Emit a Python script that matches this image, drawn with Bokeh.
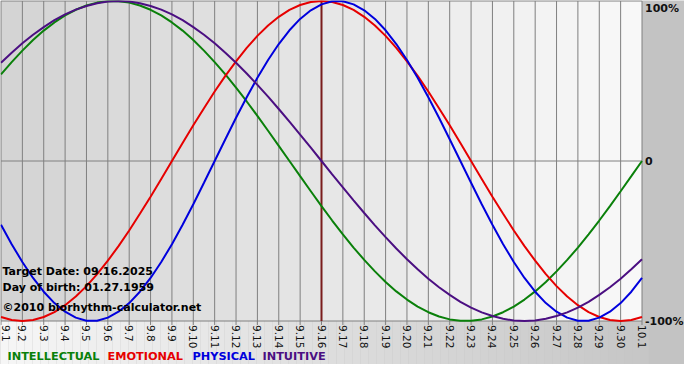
import math
from bokeh.plotting import figure
from bokeh.models import Range1d, Label
from bokeh.core.properties import value
from bokeh.embed import file_html
from bokeh.resources import INLINE

# ---------------- data ----------------
tick_labels = ["9.1", "9.2", "9.3", "9.4", "9.5", "9.6", "9.7", "9.8", "9.9", "9.10",
               "9.11", "9.12", "9.13", "9.14", "9.15", "9.16", "9.17", "9.18", "9.19", "9.20",
               "9.21", "9.22", "9.23", "9.24", "9.25", "9.26", "9.27", "9.28", "9.29", "9.30",
               "10.1"]
days = list(range(len(tick_labels)))
# curve samples every half day (9.1 = 0)
sample_days = [h / 2 for h in range(2 * (len(tick_labels) - 1) + 1)]

intellectual = [0.541, 0.618, 0.690, 0.756, 0.815, 0.866, 0.910, 0.945, 0.972, 0.990,
                0.999, 0.999, 0.990, 0.972, 0.945, 0.910, 0.866, 0.815, 0.756, 0.690,
                0.618, 0.541, 0.458, 0.372, 0.282, 0.189, 0.095, 0.000, -0.095, -0.189,
                -0.282, -0.372, -0.458, -0.541, -0.618, -0.690, -0.756, -0.815, -0.866, -0.910,
                -0.945, -0.972, -0.990, -0.999, -0.999, -0.990, -0.972, -0.945, -0.910, -0.866,
                -0.815, -0.756, -0.690, -0.618, -0.541, -0.458, -0.372, -0.282, -0.189, -0.095,
                0.000]
emotional = [-0.975, -0.994, -1.000, -0.994, -0.975, -0.944, -0.901, -0.847, -0.782, -0.707,
             -0.623, -0.532, -0.434, -0.330, -0.223, -0.112, 0.000, 0.112, 0.223, 0.330,
             0.434, 0.532, 0.623, 0.707, 0.782, 0.847, 0.901, 0.944, 0.975, 0.994,
             1.000, 0.994, 0.975, 0.944, 0.901, 0.847, 0.782, 0.707, 0.623, 0.532,
             0.434, 0.330, 0.223, 0.112, 0.000, -0.112, -0.223, -0.330, -0.434, -0.532,
             -0.623, -0.707, -0.782, -0.847, -0.901, -0.944, -0.975, -0.994, -1.000, -0.994,
             -0.975]
physical = [-0.398, -0.520, -0.631, -0.731, -0.817, -0.888, -0.942, -0.979, -0.998, -0.998,
            -0.979, -0.942, -0.888, -0.817, -0.731, -0.631, -0.520, -0.398, -0.270, -0.136,
            0.000, 0.136, 0.270, 0.398, 0.520, 0.631, 0.731, 0.817, 0.888, 0.942,
            0.979, 0.998, 0.998, 0.979, 0.942, 0.888, 0.817, 0.731, 0.631, 0.520,
            0.398, 0.270, 0.136, 0.000, -0.136, -0.270, -0.398, -0.520, -0.631, -0.731,
            -0.817, -0.888, -0.942, -0.979, -0.998, -0.998, -0.979, -0.942, -0.888, -0.817,
            -0.731]
intuitive = [0.614, 0.677, 0.736, 0.789, 0.837, 0.880, 0.916, 0.946, 0.969, 0.986,
             0.997, 1.000, 0.997, 0.986, 0.969, 0.946, 0.916, 0.880, 0.837, 0.789,
             0.736, 0.677, 0.614, 0.547, 0.476, 0.402, 0.325, 0.246, 0.165, 0.083,
             0.000, -0.083, -0.165, -0.246, -0.325, -0.402, -0.476, -0.547, -0.614, -0.677,
             -0.736, -0.789, -0.837, -0.880, -0.916, -0.946, -0.969, -0.986, -0.997, -1.000,
             -0.997, -0.986, -0.969, -0.946, -0.916, -0.880, -0.837, -0.789, -0.736, -0.677,
             -0.614]

series_names = ["INTELLECTUAL", "EMOTIONAL", "PHYSICAL", "INTUITIVE"]
series_values = [intellectual, emotional, physical, intuitive]
series_colors = ["#0a800a", "#e60000", "#0000dd", "#4b0f82"]

y_ticks = [1, 0, -1]
y_tick_labels = ["100%", "0", "-100%"]

target_label = "9.16"
info_lines = ["Target Date: 09.16.2025", "Day of birth: 01.27.1959",
              "\u00a92010 biorhythm-calculator.net"]

# ---------------- layout ----------------
W, H = 684, 364
X0, XR = 0.5, 641.5       # canvas px of first / last day
Y1, Y2 = 0.5, 320.5       # canvas px of +100% / -100%
n = len(days) - 1
SX = (XR - X0) / n
SY = (Y2 - Y1) / 2.0


def dx(px):
    return (px - X0) / SX


def dy(py):
    return 1 - (py - Y1) / SY


p = figure(width=W, height=H,
           x_range=Range1d(dx(0), dx(W)), y_range=Range1d(dy(H), dy(0)),
           x_axis_type=None, y_axis_type=None,
           toolbar_location=None, output_backend="svg", min_border=0,
           outline_line_color=None,
           background_fill_color="#c3c3c3", border_fill_color="#c3c3c3")
p.title.visible = False


def grey(v):
    v = int(round(v))
    return "#%02x%02x%02x" % (v, v, v)


# plot columns, light grey getting lighter to the right
col_colors = [grey(0xd4 + (0xf8 - 0xd4) * i / (n - 1)) for i in range(n)]
p.quad(left=days[:-1], right=days[1:], bottom=-1, top=1,
       fill_color=col_colors, line_color=None)
p.quad(left=[dx(0)], right=[0], bottom=-1, top=1, fill_color=col_colors[0], line_color=None)

# bottom band gradient
strip = 8
edges = list(range(0, int(XR) + strip, strip))
bl = [dx(e) for e in edges[:-1]]
br = [dx(e) for e in edges[1:]]
bcol = [grey(0xf6 - (0xf6 - 0xc6) * k / (len(bl) - 1)) for k in range(len(bl))]
p.quad(left=bl, right=br, bottom=dy(H), top=-1, fill_color=bcol, line_color=None)

# grid lines
p.segment(x0=days, y0=-1, x1=days, y1=1, line_color="#808080", line_width=1)
p.segment(x0=days, y0=-1, x1=days, y1=dy(Y2 + 4), line_color="#808080", line_width=1)
p.segment(x0=[0] * 3, y0=y_ticks, x1=[n] * 3, y1=y_ticks, line_color="#808080", line_width=1)

# target marker
t = tick_labels.index(target_label)
p.segment(x0=[days[t]], y0=[-1], x1=[days[t]], y1=[1], line_color="#7a1c1c", line_width=2)

# curves
for vals, col in zip(series_values, series_colors):
    p.line(sample_days, vals, line_color=col, line_width=2)

# x tick labels (rotated, reading downwards); first one nudged inside the canvas
tick_kw = dict(angle=-math.pi / 2, text_align="left", text_baseline="middle",
               text_color="#111111", text_font=value("DejaVu Sans"), text_font_size="10.5px")
p.text(x=[dx(X0 + 5)], y=[dy(Y2 + 4)], text=tick_labels[:1], **tick_kw)
p.text(x=days[1:], y=[dy(Y2 + 4)] * (len(days) - 1), text=tick_labels[1:], **tick_kw)

# right-hand percent labels
lab_kw = dict(text_align="left", text_color="#111111", text_font=value("DejaVu Sans"),
              text_font_style="bold", text_font_size="11px")
p.text(x=[dx(XR + 3)], y=[dy(1)], text=[y_tick_labels[0]], text_baseline="top", **lab_kw)
p.text(x=[dx(XR + 3)] * 2, y=y_ticks[1:], text=y_tick_labels[1:], text_baseline="middle",
       **lab_kw)

# info text
for txt, py in zip(info_lines, [271, 287, 307]):
    p.add_layout(Label(x=dx(2), y=dy(py), text=txt, text_baseline="middle",
                       text_font="DejaVu Sans", text_font_style="bold",
                       text_font_size="11px", text_color="#000000"))

# legend row
for name, col, px in zip(series_names, series_colors, [7, 107, 192, 262]):
    p.add_layout(Label(x=dx(px), y=dy(356), text=name, text_baseline="middle",
                       text_font="DejaVu Sans", text_font_style="bold",
                       text_font_size="11.3px", text_color=col))

open("out.html", "w").write(file_html(p, INLINE))
